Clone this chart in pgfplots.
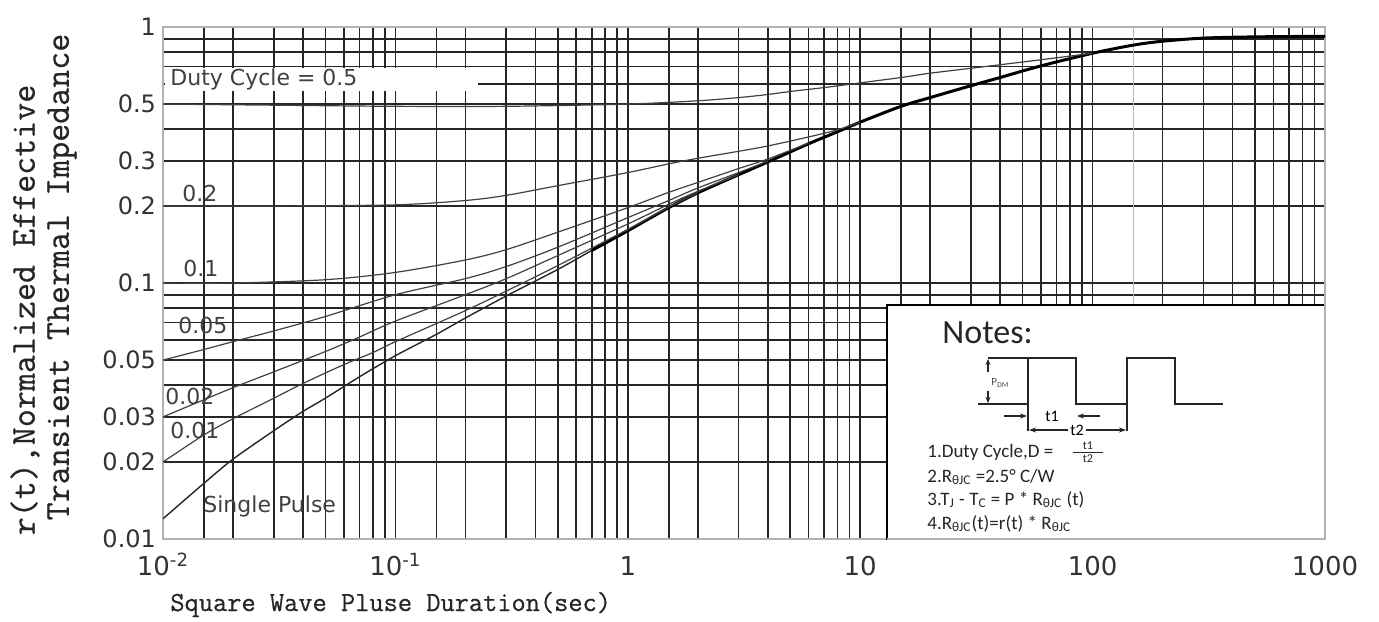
\documentclass[border=0pt]{standalone}
\usepackage{fontspec}
\usepackage{amsmath}
\usepackage{pgfplots}
\pgfplotsset{compat=1.18}
\usetikzlibrary{arrows.meta}
\newfontfamily\dejavu{DejaVu Sans}
\newfontfamily\carlito{Carlito}
\newfontfamily\lmmono[FakeBold=0.6]{Latin Modern Mono}

\begin{document}
\begin{tikzpicture}
\useasboundingbox (0,0) rectangle (689.5pt,310.5pt);
\begin{axis}[
    name=ax,
    at={(81.5pt,41pt)}, anchor=south west,
    scale only axis, width=581pt, height=256pt,
    xmode=log, ymode=log,
    xmin=0.01, xmax=1000, ymin=0.01, ymax=1,
    xtick={0.01,0.1,1,10,100,1000},
    xticklabels={10\textsuperscript{-2},10\textsuperscript{-1},1,10,100,1000},
    ytick={0.01,0.02,0.03,0.05,0.1,0.2,0.3,0.5,1},
    yticklabels={0.01,0.02,0.03,0.05,0.1,0.2,0.3,0.5,1},
    minor xtick={0.015,0.02,0.03,0.04,0.05,0.06,0.07,0.08,0.09,
                 0.15,0.2,0.3,0.4,0.5,0.6,0.7,0.8,0.9,
                 1.5,2,3,4,5,6,7,8,9,
                 15,20,30,40,50,60,70,80,90,
                 200,300,400,500,600,700,800,900},
    minor ytick={0.04,0.06,0.07,0.08,0.09,0.4,0.6,0.7,0.8,0.9},
    grid=both,
    major grid style={black!85, line width=0.8pt},
    minor grid style={black!85, line width=0.8pt},
    major tick length=0pt, minor tick length=0pt,
    axis line style={gray!60, line width=1.3pt},
    tick label style={font=\dejavu\fontsize{12}{12}\selectfont, text=black!80},
    xticklabel style={anchor=base, yshift=-18pt, font=\dejavu\fontsize{13}{13}\selectfont},
]
% the 150 s line is lighter in the original
\draw[gray!55, line width=0.8pt] (axis cs:150,0.01) -- (axis cs:150,1);

% single pulse
\addplot[black!85, line width=0.7pt, smooth] coordinates {
    (0.01,0.012)(0.015,0.0165)(0.02,0.0205)(0.03,0.0265)(0.04,0.0315)
    (0.05,0.0355)(0.07,0.043)(0.1,0.052)(0.15,0.063)(0.2,0.073)
    (0.3,0.089)(0.5,0.113)(0.7,0.134)(1,0.16)
};
\addplot[black, line width=1.5pt, smooth] coordinates {
    (0.7,0.134)(1,0.16)(1.5,0.197)(2,0.225)(3,0.265)(4,0.297)(6,0.35)
    (8,0.39)(10,0.425)(15,0.49)(20,0.53)(30,0.59)(40,0.635)(60,0.705)
    (100,0.79)(150,0.85)(200,0.88)(300,0.905)(500,0.915)(1000,0.92)
};
% D = 0.5
\addplot[black!75, line width=0.6pt, smooth] coordinates {
    (0.01,0.5)(0.03,0.495)(0.1,0.49)(0.3,0.49)(1,0.5)(2,0.515)(3,0.53)
    (4,0.545)(5,0.56)(7,0.58)(10,0.605)(15,0.635)(20,0.66)(30,0.69)
    (60,0.745)(100,0.79)
};
% D = 0.2
\addplot[black!75, line width=0.6pt, smooth] coordinates {
    (0.01,0.2)(0.03,0.2)(0.1,0.202)(0.2,0.21)(0.3,0.22)(0.5,0.24)
    (1,0.27)(1.5,0.292)(2,0.307)(3,0.327)(4,0.343)(6,0.372)(8,0.397)(10,0.425)
};
% D = 0.1
\addplot[black!75, line width=0.6pt, smooth] coordinates {
    (0.01,0.1)(0.02,0.1)(0.05,0.103)(0.1,0.11)(0.2,0.123)(0.3,0.135)
    (0.5,0.158)(1,0.197)(1.5,0.226)(2,0.247)(3,0.28)(4,0.305)(6,0.352)
};
% D = 0.05
\addplot[black!75, line width=0.6pt, smooth] coordinates {
    (0.01,0.05)(0.015,0.055)(0.02,0.059)(0.03,0.065)(0.05,0.074)(0.1,0.09)
    (0.2,0.104)(0.3,0.116)(0.5,0.138)(1,0.18)(1.5,0.21)(2,0.235)(3,0.27)(4,0.299)
};
% D = 0.02
\addplot[black!75, line width=0.6pt, smooth] coordinates {
    (0.01,0.03)(0.015,0.035)(0.02,0.039)(0.03,0.045)(0.05,0.054)(0.07,0.0615)
    (0.1,0.071)(0.2,0.09)(0.3,0.104)(0.5,0.128)(1,0.17)(1.5,0.203)(2,0.228)(3,0.265)
};
% D = 0.01
\addplot[black!75, line width=0.6pt, smooth] coordinates {
    (0.01,0.02)(0.015,0.0255)(0.02,0.0295)(0.03,0.0355)(0.04,0.0405)(0.06,0.048)
    (0.08,0.0535)(0.1,0.059)(0.2,0.078)(0.3,0.093)(0.5,0.117)(1,0.162)
    (1.5,0.198)(2,0.225)
};
\end{axis}

% overlay in pixel units of the reference (origin top left)
\begin{scope}[x=0.5pt, y=-0.5pt, yshift=310.5pt]
  % curve labels
  \fill[white] (165,68) rectangle (478,91);
  \begin{scope}[every node/.style={anchor=west, inner sep=0,
      font=\dejavu\fontsize{11}{12}\selectfont, text=black!75}]
    \node at (170,79) {Duty Cycle = 0.5};
    \node at (182,193) {0.2};
    \node at (183,268) {0.1};
    \node at (178,325) {0.05};
    \node at (165,396) {0.02};
    \node at (170,430) {0.01};
    \node at (203,506) {Single Pulse};
  \end{scope}

  % notes box
  \filldraw[fill=white, draw=black, line width=0.8pt] (887,305) rectangle (1325,539);
  \draw[gray!60, line width=1.3pt] (887,539) -- (1325,539) -- (1325,303);
  \node[anchor=base west, inner sep=0, font=\carlito\fontsize{17}{18}\selectfont, text=black!85]
    at (942,344) {Notes:};
  % pulse train
  \draw[black!85, line width=0.8pt]
    (978,404) -- (1028,404)
    (988,358) -- (1076,358) -- (1076,404) -- (1127,404)
    (1028,431) -- (1028,358)
    (1127,431) -- (1127,358) -- (1175,358) -- (1175,404) -- (1223,404);
  \draw[black!85, line width=0.6pt, -{Stealth[length=3pt,width=2.5pt]}] (988,372) -- (988,359);
  \draw[black!85, line width=0.6pt, -{Stealth[length=3pt,width=2.5pt]}] (988,391) -- (988,403);
  \node[anchor=west, inner sep=0, font=\carlito\fontsize{5.5}{6}\selectfont, text=black!70]
    at (991,383) {P\textsubscript{DM}};
  \draw[black!85, line width=0.6pt, -{Stealth[length=3.5pt,width=2.5pt]}] (1004,416) -- (1027,416);
  \draw[black!85, line width=0.6pt, -{Stealth[length=3.5pt,width=2.5pt]}] (1100,416) -- (1077,416);
  \node[inner sep=0, font=\carlito\fontsize{8}{9}\selectfont] at (1052,416) {t1};
  \draw[black!85, line width=0.6pt, {Stealth[length=3.5pt,width=2.5pt]}-{Stealth[length=3.5pt,width=2.5pt]}]
    (1029,430) -- (1126,430);
  \node[fill=white, inner sep=1pt, font=\carlito\fontsize{8}{9}\selectfont] at (1077,430) {t2};
  % notes text
  \begin{scope}[every node/.style={anchor=base west, inner sep=0,
      font=\carlito\fontsize{9.5}{11}\selectfont, text=black!85}]
    \node at (927,457) {1.Duty Cycle,D =};
    \node at (927,482) {2.R\textsubscript{θJC} =2.5° C/W};
    \node at (927,505) {3.T\textsubscript{J} - T\textsubscript{C} = P * R\textsubscript{θJC} (t)};
    \node at (927,529) {4.R\textsubscript{θJC}(t)=r(t) * R\textsubscript{θJC}};
  \end{scope}
  \node[inner sep=0, font=\carlito\fontsize{9}{10}\selectfont, text=black!85] at (1088,452)
    {$\frac{\hspace{5pt}\text{t1}\hspace{5pt}}{\text{t2}}$};

  % axis titles
  \node[anchor=base west, inner sep=0, font=\lmmono\fontsize{13.8}{16}\selectfont, text=black!85]
    at (170,611) {Square Wave Pluse Duration(sec)};
  \node[rotate=90, inner sep=0, font=\lmmono\fontsize{17.5}{18}\selectfont, text=black!85]
    at (25,310) {r(t),Normalized Effective};
  \node[rotate=90, inner sep=0, font=\lmmono\fontsize{17.5}{18}\selectfont, text=black!85]
    at (62,277) {Transient Thermal Impedance};
\end{scope}
\end{tikzpicture}
\end{document}
